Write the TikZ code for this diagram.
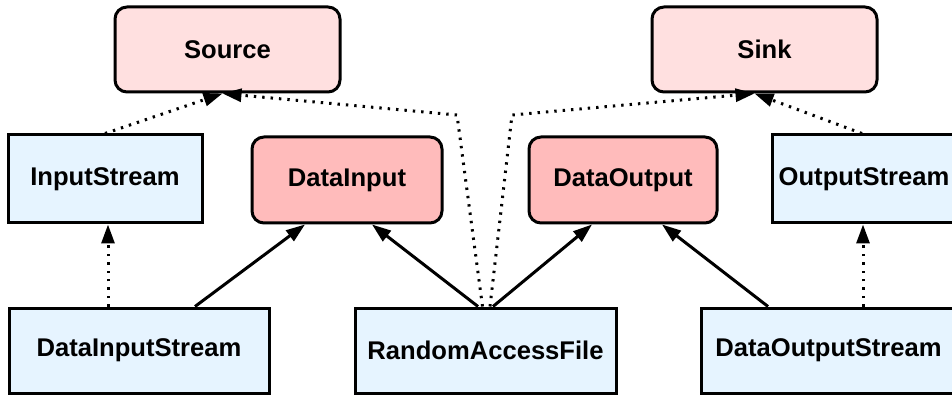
\documentclass[tikz,border=0pt]{standalone}
\usepackage{fontspec}
\setmainfont{Liberation Sans}
\usetikzlibrary{arrows.meta}
\newlength{\du}
\setlength{\du}{0.5pt}
\definecolor{abstractfill}{rgb}{1.000000, 0.878431, 0.878431}
\definecolor{ifacefill}{rgb}{1.000000, 0.733333, 0.733333}
\definecolor{classfill}{rgb}{0.901961, 0.956863, 1.000000}
\tikzset{
  box/.style={draw=black, line width=1.5pt, inner sep=0pt, font=\fontsize{12.8}{15}\selectfont\bfseries},
  rbox/.style={box, rounded corners=6pt},
  impl/.style={line width=1.5pt, -{Triangle[length=9.5pt,width=6.5pt]}},
  uses/.style={impl, dash pattern=on 1.2pt off 3pt},
}
\begin{document}
\begin{tikzpicture}
\pgftransformxscale{1.000000}
\pgftransformyscale{-1.000000}
\useasboundingbox (0\du,0\du) rectangle (952\du,395\du);
% top row
\node[rbox, fill=abstractfill, minimum width=225\du, minimum height=85\du] (Source) at (227.500000\du,49.500000\du) {Source};
\node[rbox, fill=abstractfill, minimum width=225\du, minimum height=85\du] (Sink) at (764.500000\du,49.500000\du) {Sink};
% middle row
\node[box, fill=classfill, minimum width=194\du, minimum height=88\du] (InputStream) at (105.000000\du,179.000000\du) {InputStream};
\node[rbox, fill=ifacefill, minimum width=190\du, minimum height=86\du] (DataInput) at (347.000000\du,180.000000\du) {DataInput};
\node[rbox, fill=ifacefill, minimum width=188\du, minimum height=86\du] (DataOutput) at (623.000000\du,180.000000\du) {DataOutput};
\node[box, fill=classfill, minimum width=184\du, minimum height=88\du] (OutputStream) at (864.000000\du,179.000000\du) {OutputStream};
% bottom row
\node[box, fill=classfill, minimum width=260\du, minimum height=85\du] (DataInputStream) at (139.000000\du,350.500000\du) {DataInputStream};
\node[box, fill=classfill, minimum width=261\du, minimum height=85\du] (RandomAccessFile) at (485.500000\du,350.500000\du) {RandomAccessFile};
\node[box, fill=classfill, minimum width=255\du, minimum height=85\du] (DataOutputStream) at (828.500000\du,350.500000\du) {DataOutputStream};
% was here!!!
\coordinate (bendL) at (457.000000\du,115.000000\du);
\coordinate (bendR) at (512.000000\du,115.000000\du);
% dotted
\draw[uses] (InputStream.north) -- ([xshift=-2.5pt]Source.south);
\draw[uses] ([xshift=-1.5pt]RandomAccessFile.north) -- (bendL) -- ([xshift=-2.5pt]Source.south);
\draw[uses] ([xshift=2.25pt]RandomAccessFile.north) -- (bendR) -- ([xshift=-5pt]Sink.south);
\draw[uses] ([xshift=-1pt]OutputStream.north) -- ([xshift=-5pt]Sink.south);
\draw[uses] ([xshift=-15.5pt]DataInputStream.north) -- ([xshift=1.5pt]InputStream.south);
\draw[uses] ([xshift=17.25pt]DataOutputStream.north) -- ([xshift=-0.5pt]OutputStream.south);
% solid
\draw[impl] ([xshift=28pt]DataInputStream.north) -- ([xshift=-21pt]DataInput.south);
\draw[impl] ([xshift=-3.75pt]RandomAccessFile.north) -- ([xshift=12.5pt]DataInput.south);
\draw[impl] ([xshift=3.75pt]RandomAccessFile.north) -- ([xshift=-15.5pt]DataOutput.south);
\draw[impl] ([xshift=-30.25pt]DataOutputStream.north) -- ([xshift=19.5pt]DataOutput.south);
\end{tikzpicture}
\end{document}
